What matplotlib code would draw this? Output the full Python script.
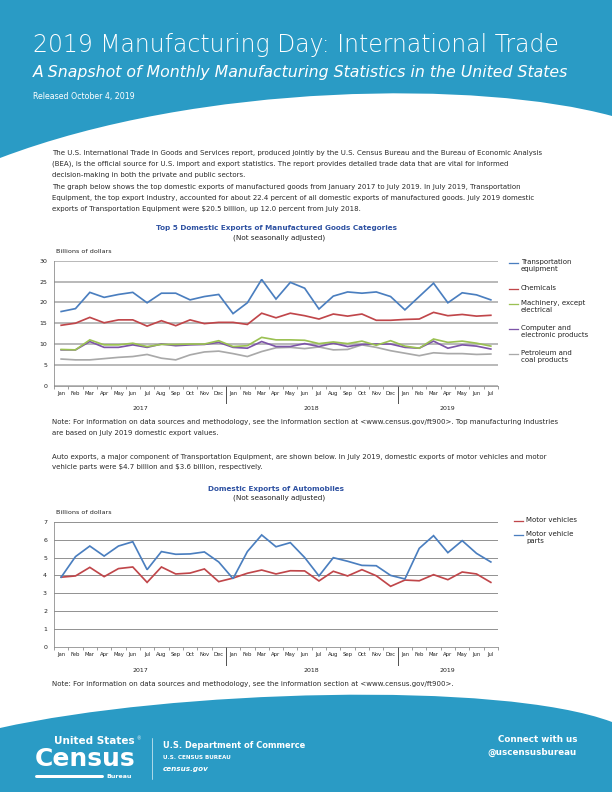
import numpy as np
import matplotlib

# Force a non-interactive backend so plotting works in headless environments
matplotlib.use("Agg")
import matplotlib.pyplot as plt
import matplotlib.transforms as mtransforms
from matplotlib.path import Path
from matplotlib.patches import PathPatch

months = ["Jan", "Feb", "Mar", "Apr", "May", "Jun", "Jul", "Aug", "Sep", "Oct", "Nov", "Dec"]
month_labels = months * 2 + months[:7]
years = ["2017", "2018", "2019"]

# Top 5 domestic exports, billions of dollars, Jan 2017 - Jul 2019
transport = [17.8, 18.5, 22.4, 21.2, 21.9, 22.4, 19.9, 22.2, 22.2, 20.6, 21.4, 21.9,
             17.3, 19.9, 25.5, 20.8, 24.8, 23.4, 18.4, 21.5, 22.5, 22.2, 22.5, 21.4,
             18.2, 21.4, 24.6, 19.9, 22.3, 21.8, 20.6]
chemicals = [14.5, 15.0, 16.4, 15.1, 15.8, 15.8, 14.3, 15.6, 14.4, 15.8, 14.9, 15.2,
             15.2, 14.7, 17.4, 16.3, 17.4, 16.8, 16.0, 17.2, 16.7, 17.2, 15.7, 15.7,
             15.9, 16.0, 17.6, 16.8, 17.1, 16.7, 16.9]
machinery = [8.7, 8.6, 11.0, 9.8, 9.8, 10.2, 9.4, 9.9, 9.9, 10.0, 10.0, 10.8,
             9.4, 9.6, 11.6, 11.0, 11.0, 10.9, 10.1, 10.5, 10.1, 10.7, 9.7, 10.8,
             9.5, 9.0, 11.2, 10.4, 10.7, 10.2, 9.5]
computer = [8.6, 8.6, 10.6, 9.2, 9.2, 9.8, 9.2, 10.0, 9.6, 9.8, 9.9, 10.4,
            9.2, 9.0, 10.6, 9.4, 9.4, 10.1, 9.4, 10.2, 9.4, 9.9, 10.0, 10.0,
            9.2, 9.0, 10.7, 9.0, 9.8, 9.5, 8.8]
petroleum = [6.4, 6.2, 6.2, 6.5, 6.8, 7.0, 7.5, 6.6, 6.2, 7.4, 8.1, 8.3,
             7.7, 7.0, 8.2, 9.1, 9.2, 8.9, 9.3, 8.6, 8.7, 9.8, 9.2, 8.4,
             7.8, 7.2, 7.9, 7.7, 7.7, 7.5, 7.6]
top5_names = ["Transportation\nequipment", "Chemicals", "Machinery, except\nelectrical",
              "Computer and\nelectronic products", "Petroleum and\ncoal products"]
top5_colors = ["#4a7ebf", "#c0464a", "#9bc153", "#7d55a8", "#a9a9a9"]

# Domestic exports of automobiles, billions of dollars
vehicles = [3.90, 3.97, 4.45, 3.93, 4.38, 4.47, 3.61, 4.47, 4.08, 4.13, 4.36, 3.65,
            3.85, 4.12, 4.30, 4.08, 4.26, 4.25, 3.69, 4.23, 3.97, 4.32, 3.98, 3.39,
            3.74, 3.70, 4.04, 3.76, 4.19, 4.08, 3.61]
parts = [3.90, 5.05, 5.64, 5.08, 5.64, 5.88, 4.32, 5.33, 5.18, 5.20, 5.31, 4.75,
         3.82, 5.33, 6.26, 5.60, 5.83, 5.00, 3.97, 4.99, 4.79, 4.56, 4.54, 4.00,
         3.80, 5.51, 6.22, 5.27, 5.94, 5.23, 4.75]
auto_names = ["Motor vehicles", "Motor vehicle\nparts"]
auto_colors = ["#c0464a", "#4a7ebf"]

intro_lines = [
    "The U.S. International Trade in Goods and Services report, produced jointly by the U.S. Census Bureau and the Bureau of Economic Analysis",
    "(BEA), is the official source for U.S. import and export statistics. The report provides detailed trade data that are vital for informed",
    "decision-making in both the private and public sectors.",
]
graph_lines = [
    "The graph below shows the top domestic exports of manufactured goods from January 2017 to July 2019. In July 2019, Transportation",
    "Equipment, the top export industry, accounted for about 22.4 percent of all domestic exports of manufactured goods. July 2019 domestic",
    "exports of Transportation Equipment were \\$20.5 billion, up 12.0 percent from July 2018.",
]
note1_lines = [
    "Note: For information on data sources and methodology, see the information section at <www.census.gov/ft900>. Top manufacturing industries",
    "are based on July 2019 domestic export values.",
]
auto_lines = [
    "Auto exports, a major component of Transportation Equipment, are shown below. In July 2019, domestic exports of motor vehicles and motor",
    "vehicle parts were \\$4.7 billion and \\$3.6 billion, respectively.",
]
note2_lines = [
    "Note: For information on data sources and methodology, see the information section at <www.census.gov/ft900>.",
]

BLUE = "#2a9bc5"
W, H = 612, 792
FONT = "DejaVu Sans"


def px_axes(fig, x0, y0, x1, y1):
    return fig.add_axes([x0 / W, 1 - y1 / H, (x1 - x0) / W, (y1 - y0) / H])


def paragraph(ax, lines, y0, step):
    for i, line in enumerate(lines):
        ax.text(52, y0 + i * step, line, fontsize=6.95, color="#2a2a2a", family=FONT,
                va="center")


def style_month_axis(ax, grid_color, grid_lw):
    n = len(month_labels)
    ax.set_xlim(-0.5, n - 0.5)
    ax.set_xticks(np.arange(n))
    ax.set_xticklabels(month_labels, fontsize=5.2, color="#222222", family=FONT)
    ax.set_xticks(np.arange(-0.5, n, 1), minor=True)
    ax.tick_params(axis="x", which="major", length=0, pad=5)
    ax.tick_params(axis="x", which="minor", length=3, width=0.7, color="#777777")
    ax.tick_params(axis="y", length=0, pad=7, labelsize=6.2, labelcolor="#222222")
    ax.grid(axis="y", color=grid_color, lw=grid_lw)
    ax.set_axisbelow(True)
    ax.set_facecolor("none")
    for s in ["top", "right"]:
        ax.spines[s].set_visible(False)
    ax.spines["left"].set_color("#8a8a8a")
    ax.spines["left"].set_linewidth(0.8)
    ax.spines["bottom"].set_color("#8a8a8a")
    ax.spines["bottom"].set_linewidth(0.8)
    trans = mtransforms.blended_transform_factory(ax.transData, ax.transAxes)
    for b in [11.5, 23.5]:
        ax.plot([b, b], [0, -0.14], color="#555555", lw=1.0, transform=trans, clip_on=False)
    for i, yr in enumerate(years):
        start = i * 12
        end = min(start + 11, n - 1)
        ax.text((start + end) / 2, -0.165, yr, transform=trans, ha="center", va="top",
                fontsize=6.2, color="#222222", family=FONT)
    ax.text(0.005, 1.055, "Billions of dollars", transform=ax.transAxes, ha="left",
            va="bottom", fontsize=6.4, color="#222222", family=FONT)


def main():
    fig = plt.figure(figsize=(W / 72, H / 72), dpi=72)
    bg = fig.add_axes([0, 0, 1, 1], zorder=-1)
    bg.set_xlim(0, W)
    bg.set_ylim(H, 0)
    bg.axis("off")

    # header band with curved lower edge
    head = Path([(0, 0), (W, 0), (W, 116), (480, 80), (200, 82), (0, 158), (0, 0)],
                [Path.MOVETO, Path.LINETO, Path.LINETO, Path.CURVE4, Path.CURVE4,
                 Path.CURVE4, Path.CLOSEPOLY])
    bg.add_patch(PathPatch(head, facecolor=BLUE, edgecolor="none"))
    foot = Path([(0, 728), (170, 690), (500, 680), (W, 722), (W, H), (0, H), (0, 728)],
                [Path.MOVETO, Path.CURVE4, Path.CURVE4, Path.CURVE4, Path.LINETO,
                 Path.LINETO, Path.CLOSEPOLY])
    bg.add_patch(PathPatch(foot, facecolor=BLUE, edgecolor="none"))

    bg.text(33, 45, "2019 Manufacturing Day: International Trade", color="white",
            fontsize=23.5, family=FONT, fontweight="light", va="center")
    bg.text(33, 72, "A Snapshot of Monthly Manufacturing Statistics in the United States",
            color="white", fontsize=15.8, family=FONT, fontweight="light", style="italic",
            va="center")
    bg.text(33, 97, "Released October 4, 2019", color="white", fontsize=7.9,
            family=FONT, va="center")

    paragraph(bg, intro_lines, 153, 11)
    paragraph(bg, graph_lines, 187, 11)
    bg.text(277, 228, "Top 5 Domestic Exports of Manufactured Goods Categories", ha="center",
            va="center", fontsize=7.3, fontweight="bold", color="#2f52a2", family=FONT)
    bg.text(279, 238, "(Not seasonally adjusted)", ha="center", va="center", fontsize=7.2,
            color="#222222", family=FONT)
    paragraph(bg, note1_lines, 422, 10.5)
    paragraph(bg, auto_lines, 456.5, 10.5)
    bg.text(276, 488.5, "Domestic Exports of Automobiles", ha="center", va="center",
            fontsize=7.3, fontweight="bold", color="#2f52a2", family=FONT)
    bg.text(279, 498, "(Not seasonally adjusted)", ha="center", va="center", fontsize=7.2,
            color="#222222", family=FONT)
    paragraph(bg, note2_lines, 684, 10.5)

    # chart 1
    x = np.arange(len(month_labels))
    ax1 = px_axes(fig, 54, 260.7, 498, 385.7)
    order = [petroleum, computer, machinery, chemicals, transport]
    for series, c in zip(order, top5_colors[::-1]):
        ax1.plot(x, series, color=c, lw=1.7, solid_joinstyle="miter")
    ax1.set_ylim(0, 30)
    ax1.set_yticks(np.arange(0, 31, 5))
    style_month_axis(ax1, "#b3b3b3", 1.8)

    leg1_y = [263, 289, 304, 329, 354]
    for name, c, yy in zip(top5_names, top5_colors, leg1_y):
        bg.plot([509, 518], [yy, yy], color=c, lw=1.3)
        bg.text(521, yy - 4, name, fontsize=7, color="#222222", family=FONT,
                va="top", linespacing=1.15)

    # chart 2
    ax2 = px_axes(fig, 54, 521.7, 498, 647)
    for series, c in zip([vehicles, parts], auto_colors):
        ax2.plot(x, series, color=c, lw=1.7, solid_joinstyle="miter")
    ax2.set_ylim(0, 7)
    ax2.set_yticks(np.arange(0, 8, 1))
    style_month_axis(ax2, "#7a7a7a", 0.8)

    leg2_y = [521, 535]
    for name, c, yy in zip(auto_names, auto_colors, leg2_y):
        bg.plot([514, 523], [yy, yy], color=c, lw=1.3)
        bg.text(526, yy - 4, name, fontsize=7, color="#222222", family=FONT,
                va="top", linespacing=1.15)

    # footer
    bg.text(135, 741.5, "United States", color="white", fontsize=10.4, fontweight="bold",
            family="Liberation Sans Narrow", ha="right", va="center")
    bg.text(136.5, 738.5, "®", color="white", fontsize=4.5, ha="left", va="center", family=FONT)
    bg.text(85, 758.5, "Census", color="white", fontsize=25, fontweight="bold",
            family="Liberation Sans Narrow", ha="center", va="center")
    bg.plot([36, 102], [775.5, 775.5], color="white", lw=3, solid_capstyle="round")
    bg.text(106, 776, "Bureau", color="white", fontsize=6.2, fontweight="bold",
            family="Liberation Sans Narrow", ha="left", va="center")
    bg.plot([152, 152], [738, 779], color="white", lw=0.6)
    bg.text(163, 746, "U.S. Department of Commerce", color="white", fontsize=8.2,
            fontweight="bold", family=FONT, va="center")
    bg.text(163, 757.5, "U.S. CENSUS BUREAU", color="white", fontsize=5.6,
            fontweight="bold", family=FONT, va="center")
    bg.text(163, 768.5, "census.gov", color="white", fontsize=7.2, fontweight="bold",
            style="italic", family=FONT, va="center")
    bg.text(577, 740, "Connect with us", color="white", fontsize=8.7, fontweight="bold",
            family=FONT, ha="right", va="center")
    bg.text(577, 752.5, "@uscensusbureau", color="white", fontsize=8.7, fontweight="bold",
            family=FONT, ha="right", va="center")

    fig.savefig("out.png", dpi=72)


if __name__ == "__main__":
    main()
